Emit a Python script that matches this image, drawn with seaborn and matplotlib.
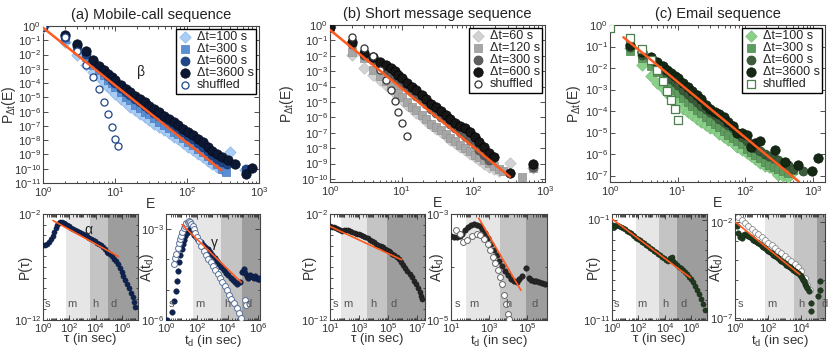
import numpy as np
import seaborn as sns
import matplotlib.pyplot as plt
from matplotlib.ticker import FixedLocator, FuncFormatter, NullLocator, NullFormatter
import matplotlib.transforms as mtransforms

sns.set_style("ticks")
plt.rcParams['font.family'] = ['Liberation Sans', 'DejaVu Sans']
plt.rcParams['mathtext.default'] = 'regular'

# %% Data (log10 values)

E_GRID = [1, 2, 3, 4, 5, 6, 7, 8, 9, 10, 12, 14, 16, 19, 22, 26, 30, 35, 41, 48,
          56, 65, 76, 89, 104, 121, 141, 165, 193, 225, 263, 307]

# (a) mobile calls
a_dt100 = [-0.05, -1.15, -2.05, -2.7, -3.2, -3.6, -3.95, -4.25, -4.5, -4.75, -5.1, -5.4, -5.65, -5.9,
           -6.15, -6.4, -6.6, -6.85, -7.05, -7.3, -7.5, -7.75, -7.95, -8.2, -8.45, -8.7, -8.95,
           -9.2, -9.45, -9.7, -9.9, -10.0]
a_dt100_tail = ([400, 640], [-8.8, -10.1])
a_dt300 = [-0.04, -0.9, -1.6, -2.2, -2.7, -3.1, -3.45, -3.75, -4.0, -4.3, -4.65, -4.95, -5.2, -5.5,
           -5.75, -6.0, -6.2, -6.45, -6.7, -6.95, -7.15, -7.4, -7.6, -7.85, -8.1, -8.35, -8.6,
           -8.85, -9.1, -9.4, -9.7, -10.0]
a_dt300_tail = ([350, 650], [-10.2, -10.1])
a_dt600 = [-0.03, -0.75, -1.4, -1.95, -2.5, -2.9, -3.2, -3.5, -3.75, -4.0, -4.35, -4.6, -4.85, -5.1,
           -5.35, -5.6, -5.85, -6.1, -6.3, -6.55, -6.8, -7.0, -7.25, -7.45, -7.7, -7.95, -8.2,
           -8.45, -8.75, -9.05, -9.3, -9.55]
a_dt600_tail = ([360, 650], [-9.7, -10.0])
a_dt3600 = [-0.02, -0.66, -1.25, -1.76, -2.4, -2.78, -3.06, -3.34, -3.6, -3.8, -4.15, -4.4, -4.6, -4.9,
            -5.1, -5.35, -5.6, -5.85, -6.05, -6.3, -6.55, -6.75, -6.95, -7.2, -7.4, -7.65, -7.9,
            -8.15, -8.45, -8.75, -9.0, -9.2]
a_dt3600_tail = ([370, 460, 660, 800], [-9.4, -9.65, -10.35, -9.95])
a_shuf_E = [1, 2, 3, 4, 5, 6, 7, 8, 9, 10, 11]
a_shuf = [-0.05, -0.8, -1.75, -2.7, -3.55, -4.4, -5.35, -6.2, -7.1, -7.9, -8.4]
a_fit = ([1, 300], [-0.12, -10.1])

# (b) short messages
b_dt60 = [-0.1, -1.95, -2.8, -3.24, -3.6, -3.9, -4.15, -4.4, -4.65, -4.85, -5.2, -5.45, -5.7, -6.0,
          -6.25, -6.5, -6.75, -6.95, -7.2, -7.45, -7.65, -7.9, -8.1, -8.35, -8.55, -8.8, -9.0,
          -9.2, -9.35, -9.5]
b_dt60_tail = ([320, 690], [-8.95, -9.3])
b_dt120 = [-0.1, -1.73, -2.16, -2.9, -3.3, -3.65, -3.95, -4.2, -4.45, -4.65, -5.0, -5.3, -5.55, -5.85,
           -6.1, -6.4, -6.6, -6.85, -7.1, -7.35, -7.55, -7.8, -8.0, -8.2, -8.45, -8.6, -8.75,
           -8.95, -9.17, -9.35, -9.5]
b_dt120_tail = ([470, 680], [-9.86, -9.3])
b_dt300 = [-0.1, -1.25, -1.95, -2.3, -2.65, -2.9, -3.15, -3.35, -3.55, -3.75, -4.05, -4.35, -4.6, -4.9,
           -5.15, -5.45, -5.7, -5.95, -6.2, -6.45, -6.7, -6.95, -7.2, -7.45, -7.75, -8.1, -8.45, -8.8]
b_dt300_tail = ([690], [-9.2])
b_dt600 = [-0.1, -1.08, -1.8, -2.05, -2.38, -2.6, -2.82, -3.02, -3.24, -3.45, -3.75, -4.0, -4.25, -4.55,
           -4.8, -5.1, -5.35, -5.6, -5.85, -6.1, -6.35, -6.55, -6.7, -6.97, -7.25, -7.6, -7.95,
           -8.3, -8.6]
b_dt600_tail = ([320, 690], [-9.6, -9.06])
b_shuf_E = [2, 3, 4, 5, 6, 7, 8, 9, 10, 12]
b_shuf = [-0.76, -1.5, -2.0, -2.9, -3.6, -4.25, -4.95, -5.65, -6.35, -7.2]
b_fit = ([1, 324], [-0.32, -9.86])

# (c) email (starts at E = 2)
c_dt100 = [-1.08, -1.86, -2.35, -2.7, -2.95, -3.15, -3.35, -3.5, -3.65, -3.9, -4.05, -4.2, -4.35,
           -4.5, -4.65, -4.8, -4.9, -5.05, -5.2, -5.35, -5.5, -5.65, -5.8, -5.97, -6.1, -6.25,
           -6.43, -6.55, -6.59, -6.75, -6.98]
c_dt100_tail = ([360, 420, 480], [-7.0, -7.05, -6.9])
c_dt300 = [-1.2, -1.55, -1.9, -2.2, -2.45, -2.65, -2.85, -3.0, -3.15, -3.4, -3.6, -3.75, -3.95,
           -4.1, -4.3, -4.45, -4.6, -4.75, -4.95, -5.1, -5.25, -5.4, -5.55, -5.75, -5.9, -6.05,
           -6.2, -6.35, -6.5, -6.6, -6.7]
c_dt300_tail = ([360, 420, 500], [-6.8, -6.9, -6.75])
c_dt600 = [-1.0, -1.4, -1.65, -1.9, -2.1, -2.3, -2.5, -2.65, -2.8, -3.0, -3.2, -3.4, -3.6,
           -3.75, -3.9, -4.05, -4.2, -4.35, -4.5, -4.65, -4.8, -5.0, -5.2, -5.4, -5.6, -5.7,
           -5.85, -6.0, -6.1, -6.2, -6.3]
c_dt600_tail = ([360, 420, 500, 700], [-6.4, -6.5, -6.7, -6.8])
c_dt3600 = [-0.95, -1.24, -1.5, -1.71, -1.9, -2.09, -2.25, -2.38, -2.48, -2.7, -2.87, -3.05, -3.26,
            -3.45, -3.72, -3.9, -4.03, -4.15, -4.26, -4.5, -4.7, -5.04, -5.0, -5.12, -5.66, -5.5,
            -5.38]
c_dt3600_tail = ([275, 390, 590, 980, 1200], [-5.81, -6.36, -6.51, -6.78, -6.2])
c_shuf_E = [1, 2, 3, 4, 5, 6, 7, 8, 9, 10]
c_shuf = [-0.15, -0.62, -1.13, -1.63, -2.1, -2.59, -3.06, -3.49, -3.92, -4.42]
c_fit = ([1.58, 620], [-0.57, -7.29])

# bottom rows: (log10 x, log10 y)
a_tau = [0.0, 0.15, 0.3, 0.45, 0.6, 0.72, 0.84, 0.96, 1.08, 1.2, 1.32, 1.44, 1.56, 1.7, 1.85, 2.0,
         2.15, 2.3, 2.45, 2.6, 2.75, 2.9, 3.05, 3.2, 3.35, 3.5, 3.65, 3.8, 3.95, 4.1, 4.25, 4.4,
         4.55, 4.7, 4.85, 4.95, 5.05, 5.2, 5.35, 5.5, 5.65, 5.8, 5.95, 6.1, 6.25, 6.4, 6.55,
         6.7, 6.82, 6.92, 7.0]
a_ptau = [-4.94, -4.88, -4.8, -4.65, -4.37, -4.05, -3.7, -3.35, -3.05, -2.86, -2.73, -2.74, -2.82,
          -2.92, -3.03, -3.16, -3.28, -3.4, -3.51, -3.62, -3.72, -3.82, -3.92, -4.02, -4.12, -4.22,
          -4.33, -4.45, -4.57, -4.7, -4.82, -4.96, -5.15, -5.3, -5.55, -5.72, -5.8, -5.98, -6.2,
          -6.47, -6.75, -7.1, -7.5, -7.85, -8.25, -8.6, -9.0, -9.45, -9.85, -10.3, -10.82]
a_alpha = ([0.76, 5.73], [-2.62, -6.02])

a_td = [0.04, 0.39, 0.54, 0.62, 0.7, 0.78, 0.86, 0.94, 1.02, 1.1, 1.18, 1.26, 1.34, 1.42, 1.5, 1.58,
        1.68, 1.8, 1.95, 2.1, 2.25, 2.4, 2.55, 2.7, 2.85, 3.0, 3.15, 3.3, 3.45, 3.6, 3.75, 3.9,
        4.05, 4.2, 4.35, 4.5, 4.63, 4.8, 4.96, 5.07, 5.15, 5.24, 5.3, 5.39, 5.47, 5.54, 5.63,
        5.72, 5.8, 5.89, 5.97, 6.04, 6.1]
a_atd = [-6.0, -5.72, -5.38, -5.05, -4.7, -4.37, -4.08, -3.85, -3.66, -3.48, -3.35, -3.22, -3.12,
         -3.03, -2.99, -3.01, -3.09, -3.19, -3.27, -3.35, -3.43, -3.51, -3.59, -3.67, -3.77, -3.86,
         -3.95, -4.05, -4.15, -4.24, -4.34, -4.44, -4.53, -4.62, -4.69, -4.76, -4.8, -4.76, -4.43,
         -4.31, -4.45, -4.54, -4.6, -4.57, -4.52, -4.54, -4.58, -4.62, -4.56, -4.6, -4.63, -4.65,
         -4.6]
a_td_shuf = [0.5, 0.6, 0.67, 0.75, 0.83, 0.9, 0.98, 1.06, 1.15, 1.22, 1.3, 1.4, 1.48, 1.56, 1.63,
             1.72, 1.8, 1.9, 2.02, 2.15, 2.3, 2.45, 2.6, 2.75, 2.9, 3.05, 3.2, 3.35, 3.5, 3.65,
             3.8, 3.95, 4.1, 4.25, 4.41, 4.59, 4.75, 4.89, 5.13, 5.2]
a_atd_shuf = [-4.15, -3.95, -3.81, -3.63, -3.47, -3.33, -3.22, -3.08, -2.97, -2.88, -2.8, -2.75,
              -2.74, -2.77, -2.82, -2.9, -3.0, -3.12, -3.25, -3.38, -3.55, -3.72, -3.86, -3.98,
              -4.1, -4.22, -4.35, -4.48, -4.6, -4.74, -4.88, -5.02, -5.16, -5.3, -5.44, -5.61,
              -5.78, -5.94, -5.33, -5.5]
a_gamma = ([1.04, 4.89], [-2.85, -4.76])

b_tau = [1.0, 1.12, 1.25, 1.4, 1.55, 1.7, 1.85, 2.0, 2.12, 2.25, 2.4, 2.55, 2.7, 2.85, 3.0, 3.15,
         3.3, 3.45, 3.6, 3.75, 3.9, 4.05, 4.2, 4.35, 4.5, 4.65, 4.8, 4.95, 5.05, 5.15, 5.3, 5.45,
         5.6, 5.75, 5.9, 6.05, 6.2, 6.35, 6.5, 6.65, 6.8, 6.95, 7.08, 7.2, 7.3, 7.35]
b_ptau = [-3.14, -3.2, -3.27, -3.36, -3.46, -3.53, -3.57, -3.52, -3.48, -3.5, -3.56, -3.66, -3.76,
          -3.84, -3.92, -4.01, -4.11, -4.2, -4.3, -4.41, -4.55, -4.67, -4.8, -4.92, -5.03, -5.16,
          -5.26, -5.38, -5.45, -5.58, -5.74, -5.88, -6.05, -6.28, -6.55, -6.8, -7.08, -7.35,
          -7.65, -7.97, -8.3, -8.65, -9.0, -9.35, -9.75, -10.0]
b_alpha = ([1.0, 5.94], [-3.17, -6.31])

b_td = [1.0, 1.15, 1.3, 1.45, 1.6, 1.75, 1.9, 2.05, 2.2, 2.35, 2.5, 2.65, 2.8, 2.95, 3.1, 3.25,
        3.4, 3.55, 3.7, 3.85, 4.0, 4.15, 4.3, 4.45, 4.6, 4.75, 4.96, 5.09, 5.21, 5.35, 5.49,
        5.63, 5.79, 5.96]
b_atd = [-3.41, -3.43, -3.43, -3.41, -3.37, -3.31, -3.24, -3.2, -3.19, -3.2, -3.23, -3.28, -3.36,
         -3.46, -3.57, -3.68, -3.78, -3.89, -3.98, -4.07, -4.16, -4.22, -4.26, -4.28, -4.23,
         -4.17, -4.02, -4.21, -4.24, -4.27, -4.26, -4.28, -4.3, -4.32]
b_td_shuf = [1.26, 1.46, 1.63, 1.84, 2.1, 2.37, 2.54, 2.75, 2.93, 3.07, 3.21, 3.33, 3.46, 3.56,
             3.68, 3.81, 3.91, 4.0, 4.05]
b_atd_shuf = [-3.31, -3.37, -3.53, -3.5, -3.42, -3.37, -3.4, -3.47, -3.56, -3.68, -3.81, -3.93,
              -4.05, -4.18, -4.33, -4.52, -4.7, -4.89, -4.98]
b_gamma = ([2.46, 4.68], [-3.08, -4.44])

c_tau = [0.05, 0.15, 0.25, 0.38, 0.5, 0.65, 0.8, 0.95, 1.1, 1.25, 1.4, 1.55, 1.7, 1.85, 2.0, 2.15,
         2.3, 2.45, 2.6, 2.75, 2.9, 3.05, 3.2, 3.35, 3.5, 3.65, 3.8, 3.95, 4.1, 4.25, 4.4, 4.5,
         4.6, 4.75, 4.9, 5.05, 5.2, 5.35, 5.5, 5.65, 5.8, 5.95, 6.1, 6.25, 6.4, 6.55, 6.7,
         6.85, 7.0]
c_ptau = [-1.5, -1.75, -1.62, -1.58, -1.62, -1.72, -1.84, -1.96, -2.1, -2.24, -2.38, -2.52, -2.66,
          -2.8, -2.94, -3.08, -3.22, -3.37, -3.52, -3.67, -3.82, -3.97, -4.12, -4.27, -4.42,
          -4.57, -4.72, -4.87, -5.02, -5.12, -4.85, -4.75, -5.1, -5.3, -5.5, -5.68, -5.87,
          -6.05, -6.25, -6.45, -6.68, -6.95, -7.25, -7.6, -8.0, -8.45, -8.95, -9.45, -10.0]
c_alpha = ([0.0, 5.92], [-0.94, -6.78])

c_td = [0.1, 0.2, 0.3, 0.4, 0.5, 0.6, 0.7, 0.8, 0.9, 1.0, 1.1, 1.2, 1.3, 1.4, 1.5, 1.6, 1.7, 1.8,
        1.9, 2.0, 2.1, 2.2, 2.3, 2.4, 2.5, 2.6, 2.7, 2.8, 2.9, 3.0, 3.1, 3.2, 3.3, 3.4, 3.5, 3.6,
        3.7, 3.8, 3.9, 3.96, 4.03, 4.1, 4.17, 4.24, 4.3, 4.36, 4.44, 4.6, 4.6, 5.0, 5.1, 5.1]
c_atd = [-2.21, -2.56, -2.77, -2.87, -2.7, -2.64, -2.68, -2.73, -2.8, -2.87, -2.93, -2.99, -3.05,
         -3.11, -3.18, -3.25, -3.31, -3.38, -3.45, -3.52, -3.58, -3.64, -3.71, -3.78, -3.84,
         -3.9, -3.97, -4.04, -4.1, -4.16, -4.23, -4.3, -4.36, -4.42, -4.49, -4.56, -4.62, -4.68,
         -4.75, -4.82, -4.9, -5.0, -5.1, -5.21, -5.32, -5.43, -5.61, -6.22, -6.65, -5.87, -5.08,
         -5.52]
c_td_shuf = [0.04, 0.2, 0.4, 0.6, 0.8, 1.0, 1.2, 1.4, 1.6, 1.8, 2.0, 2.2, 2.4, 2.6, 2.8, 3.0, 3.2,
             3.4, 3.6, 3.8, 4.0, 4.2, 4.36, 4.5]
c_atd_shuf = [-1.65, -1.77, -1.9, -2.07, -2.24, -2.38, -2.52, -2.66, -2.8, -2.94, -3.08, -3.22,
              -3.36, -3.5, -3.64, -3.78, -3.92, -4.06, -4.2, -4.33, -4.56, -4.91, -5.26, -5.52]
c_gamma = ([0.0, 3.9], [-2.0, -4.74])

REGIONS = [60, 3600, 86400]          # minute, hour, day
REGION_COLORS = ['#e6e6e6', '#c4c4c4', '#9d9d9d']
ORANGE = '#ff5a1f'
TXT = '#333333'

# %% Helpers

W, H = 831, 350
fig = plt.figure(figsize=(W / 100, H / 100), dpi=100)


def add_ax(x0, y0, x1, y1):
    return fig.add_axes([x0 / W, 1 - y1 / H, (x1 - x0) / W, (y1 - y0) / H])


def p10(v):
    return 10.0 ** np.asarray(v, dtype=float)


pow_fmt = FuncFormatter(lambda v, p: r'$10^{%d}$' % int(round(np.log10(v))))


def style(ax, xticks, yticks, xminor, yminor):
    ax.set_xscale('log')
    ax.set_yscale('log')
    ax.xaxis.set_major_locator(FixedLocator(xticks))
    ax.yaxis.set_major_locator(FixedLocator(yticks))
    ax.xaxis.set_minor_locator(FixedLocator(xminor) if xminor else NullLocator())
    ax.yaxis.set_minor_locator(FixedLocator(yminor) if yminor else NullLocator())
    ax.xaxis.set_major_formatter(pow_fmt)
    ax.yaxis.set_major_formatter(pow_fmt)
    ax.xaxis.set_minor_formatter(NullFormatter())
    ax.yaxis.set_minor_formatter(NullFormatter())
    ax.tick_params(which='both', direction='in', top=True, right=True, colors=TXT,
                   labelsize=8, width=0.6, pad=1.5)
    ax.tick_params(which='major', length=3.5)
    ax.tick_params(which='minor', length=1.8)
    for sp in ax.spines.values():
        sp.set_color('#444444')
        sp.set_linewidth(0.8)


def dots(ax, x, y, marker, s, face, edge, lw=0.5, label=None, z=3):
    sns.scatterplot(x=x, y=y, ax=ax, marker=marker, s=s, color=face, edgecolor=edge,
                    linewidth=lw, label=label, legend=False, zorder=z)


def fit(ax, xs, ys_log, lw):
    sns.lineplot(x=xs, y=p10(ys_log), ax=ax, color=ORANGE, lw=lw, zorder=6)


def series(ax, vals, tail, marker, s, face, edge, label, start=0):
    x = E_GRID[start:start + len(vals)] + tail[0]
    y = list(p10(vals)) + list(p10(tail[1]))
    dots(ax, x, y, marker, s, face, edge, label=label)


def minor_decades(lo, hi):
    return [k * 10.0 ** e for e in range(lo, hi) for k in range(2, 10)]


def top_panel(box, title, ylim, ytick_exp, xmax, ylab_x):
    ax = add_ax(*box)
    style(ax, [1, 10, 100, 1000], [10.0 ** k for k in ytick_exp], minor_decades(0, 4), None)
    ax.set_xlim(1, xmax)
    ax.set_ylim(10.0 ** ylim[0], 10.0 ** ylim[1])
    ax.set_title(title, fontsize=10.5, color='#222222', pad=5)
    ax.set_xlabel('E', fontsize=10, color=TXT, labelpad=-1)
    ax.set_ylabel(r'P$_{Δt}$(E)', fontsize=10, color=TXT)
    ax.yaxis.set_label_coords(ylab_x, 0.5)
    return ax


def legend(ax):
    ax.legend(loc='upper right', fontsize=9, frameon=True, fancybox=False, edgecolor='black',
              framealpha=1, borderpad=0.2, labelspacing=0.0, handletextpad=0.45,
              handlelength=1.0, borderaxespad=0.2)


def bottom_panel(box, xlim_log, ylim_log, xt_exp, yt_exp, xlabel, ylabel, ylab_x):
    ax = add_ax(*box)
    lo, hi = int(np.floor(xlim_log[0])), int(np.ceil(xlim_log[1]))
    ylo, yhi = int(np.floor(ylim_log[0])), int(np.ceil(ylim_log[1]))
    style(ax, [10.0 ** k for k in xt_exp], [10.0 ** k for k in yt_exp],
          minor_decades(lo, hi) + [10.0 ** k for k in range(lo, hi + 1) if k not in xt_exp],
          [10.0 ** k for k in range(ylo, yhi + 1) if k not in yt_exp])
    ax.tick_params(axis='x', which='major', pad=1)
    ax.set_xlim(10.0 ** xlim_log[0], 10.0 ** xlim_log[1])
    ax.set_ylim(10.0 ** ylim_log[0], 10.0 ** ylim_log[1])
    edges = [10.0 ** xlim_log[0]] + REGIONS + [10.0 ** xlim_log[1]]
    for i, c in enumerate(REGION_COLORS):
        ax.axvspan(edges[i + 1], edges[i + 2], color=c, lw=0, zorder=0)
    tr = mtransforms.blended_transform_factory(ax.transData, ax.transAxes)
    label_x = [10.0 ** (xlim_log[0] + 0.35)] + [r * 2.8 for r in REGIONS]
    for lx, t in zip(label_x, ['s', 'm', 'h', 'd']):
        ax.text(lx, 0.1, t, transform=tr, fontsize=8, color='#555555', ha='center', va='bottom',
                zorder=7)
    ax.set_xlabel(xlabel, fontsize=9.5, color=TXT, labelpad=-1.5)
    ax.set_ylabel(ylabel, fontsize=10, color=TXT)
    ax.yaxis.set_label_coords(ylab_x, 0.5)
    return ax


# %% Top row

ax = top_panel((43, 26, 259, 183), '(a) Mobile-call sequence', (-11, 0), range(-11, 1), 1000, -0.115)
series(ax, a_dt100, a_dt100_tail, 'D', 34, '#a9cdf5', '#8fb7e6', 'Δt=100 s')
series(ax, a_dt300, a_dt300_tail, 's', 38, '#5b8fd4', '#4a7cc0', 'Δt=300 s')
series(ax, a_dt600, a_dt600_tail, 'o', 42, '#1f4688', '#17376d', 'Δt=600 s')
series(ax, a_dt3600, a_dt3600_tail, 'o', 46, '#0c1733', '#050b1c', 'Δt=3600 s')
dots(ax, a_shuf_E, p10(a_shuf), 'o', 26, 'white', '#1f4688', lw=0.9, label='shuffled', z=4)
fit(ax, a_fit[0], a_fit[1], 1.8)
ax.text(23, 10 ** -3.2, 'β', fontsize=10, color='#222222', ha='center', va='center')
legend(ax)

ax = top_panel((330, 25, 545, 182), '(b) Short message sequence', (-10.2, 0), range(-10, 1), 1000,
               -0.158)
series(ax, b_dt60, b_dt60_tail, 'D', 34, '#d2d2d2', '#c0c0c0', 'Δt=60 s')
series(ax, b_dt120, b_dt120_tail, 's', 38, '#a6a6a6', '#939393', 'Δt=120 s')
series(ax, b_dt300, b_dt300_tail, 'o', 42, '#5e5e5e', '#4a4a4a', 'Δt=300 s')
series(ax, b_dt600, b_dt600_tail, 'o', 46, '#161616', '#000000', 'Δt=600 s')
dots(ax, b_shuf_E, p10(b_shuf), 'o', 26, 'white', '#333333', lw=0.9, label='shuffled', z=4)
fit(ax, b_fit[0], b_fit[1], 1.8)
legend(ax)

ax = top_panel((610, 25, 825, 182), '(c) Email sequence', (-7.3, 0), range(-7, 1), 1500, -0.126)
series(ax, c_dt100, c_dt100_tail, 'D', 34, '#8ad08a', '#77bd77', 'Δt=100 s', start=1)
series(ax, c_dt300, c_dt300_tail, 's', 38, '#5f9a5f', '#4f874f', 'Δt=300 s', start=1)
series(ax, c_dt600, c_dt600_tail, 'o', 42, '#3b5b3b', '#2d4a2d', 'Δt=600 s', start=1)
series(ax, c_dt3600, c_dt3600_tail, 'o', 46, '#142814', '#0a180a', 'Δt=3600 s', start=1)
dots(ax, c_shuf_E, p10(c_shuf), 's', 32, 'white', '#4f7f4f', lw=0.9, label='shuffled', z=4)
fit(ax, c_fit[0], c_fit[1], 1.8)
legend(ax)

# %% Bottom row

ax = bottom_panel((43, 214, 138, 320), (0, 7.2), (-12, -2), [0, 2, 4, 6], [-12, -2],
                  'τ (in sec)', 'P(τ)', -0.116)
dots(ax, p10(a_tau), p10(a_ptau), 'o', 14, '#0f2350', '#0a1838', lw=0.3)
fit(ax, p10(a_alpha[0]), a_alpha[1], 1.2)
ax.text(10 ** 3.45, 10 ** -3.5, 'α', fontsize=10, color='#222222', ha='center', va='center')

ax = bottom_panel((166, 214, 260, 320), (0, 6.1), (-6, -2.5), [0, 2, 4, 6], [-6, -3],
                  r't$_d$ (in sec)', r'A(t$_d$)', -0.106)
dots(ax, p10(a_td), p10(a_atd), 'o', 16, '#0f2350', '#0a1838', lw=0.3)
dots(ax, p10(a_td_shuf), p10(a_atd_shuf), 'o', 18, 'white', '#5b7199', lw=0.7, z=4)
fit(ax, p10(a_gamma[0]), a_gamma[1], 1.2)
ax.text(10 ** 3.15, 10 ** -3.45, 'γ', fontsize=10, color='#222222', ha='center', va='center')

ax = bottom_panel((330, 214, 425, 320), (1, 7.57), (-12, -2), [1, 3, 5, 7], [-12, -2],
                  'τ (in sec)', 'P(τ)', -0.147)
dots(ax, p10(b_tau), p10(b_ptau), 'o', 14, '#262626', '#111111', lw=0.3)
fit(ax, p10(b_alpha[0]), b_alpha[1], 1.2)

ax = bottom_panel((451, 214, 547, 320), (1, 6.05), (-5, -3), [1, 3, 5], [-5, -3],
                  r't$_d$ (in sec)', r'A(t$_d$)', -0.05)
dots(ax, p10(b_td), p10(b_atd), 'o', 16, '#262626', '#111111', lw=0.3)
dots(ax, p10(b_td_shuf), p10(b_atd_shuf), 'o', 18, 'white', '#666666', lw=0.7, z=4)
fit(ax, p10(b_gamma[0]), b_gamma[1], 1.2)

ax = bottom_panel((612, 214, 707, 320), (0, 7.18), (-11, -0.45), [0, 2, 4, 6], [-11, -1],
                  'τ (in sec)', 'P(τ)', -0.126)
dots(ax, p10(c_tau), p10(c_ptau), 'o', 14, '#1f3a1f', '#122512', lw=0.3)
fit(ax, p10(c_alpha[0]), c_alpha[1], 1.2)

ax = bottom_panel((735, 214, 825, 320), (0, 5.42), (-7.1, -1.6), [0, 2, 4], [-7, -2],
                  r't$_d$ (in sec)', r'A(t$_d$)', -0.11)
dots(ax, p10(c_td), p10(c_atd), 'o', 16, '#1f3a1f', '#122512', lw=0.3)
dots(ax, p10(c_td_shuf), p10(c_atd_shuf), 'o', 18, 'white', '#8a8a8a', lw=0.6, z=2)
fit(ax, p10(c_gamma[0]), c_gamma[1], 1.2)

fig.savefig('out.png', dpi=100)
